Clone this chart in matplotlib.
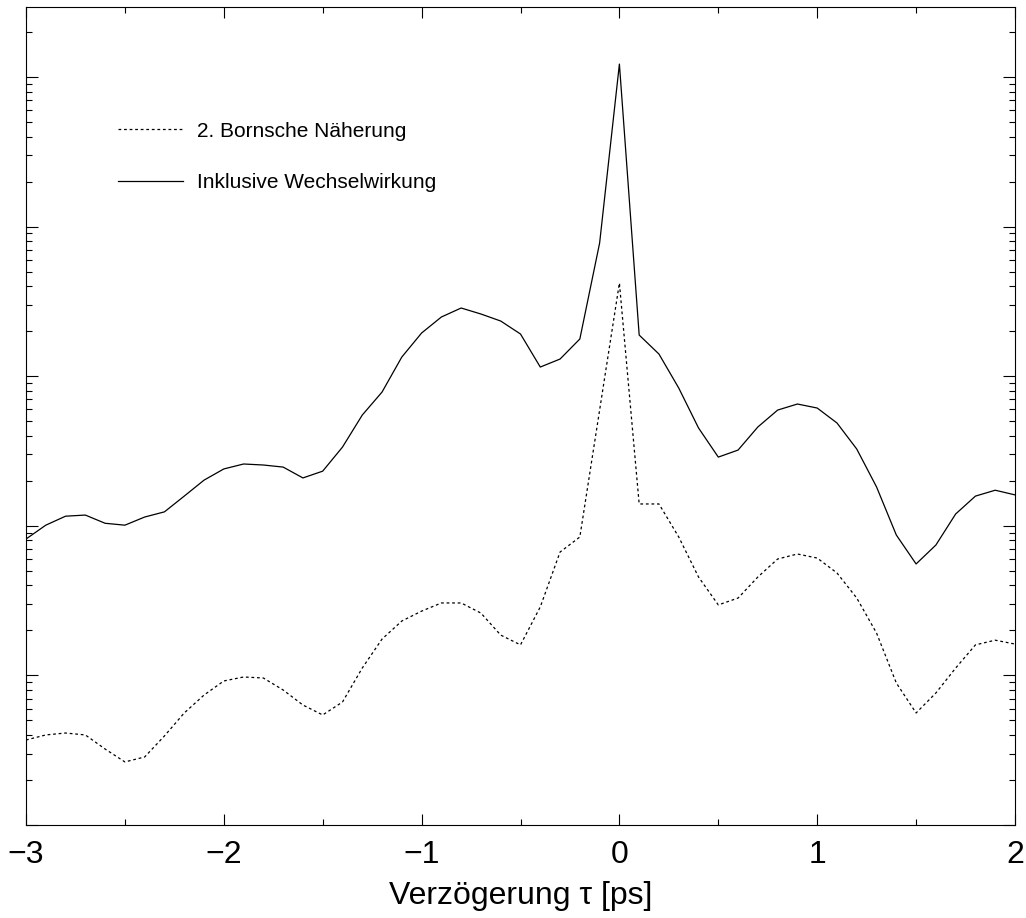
import numpy as np
import matplotlib
matplotlib.use("Agg")
import matplotlib.pyplot as plt
from matplotlib.ticker import LogLocator, MultipleLocator, NullFormatter

plt.rcParams['font.family'] = ['Liberation Sans', 'DejaVu Sans']
plt.rcParams['lines.scale_dashes'] = False

# delay in ps, 0.1 ps steps
tau = np.round(np.arange(-3.0, 2.05, 0.1), 2)

# signal (arbitrary units, log scale)
inklusive = [81.6, 101, 116, 118, 104, 101, 114.5, 124, 158, 202,
             240, 259, 255, 247, 209, 232, 336, 550, 784, 1344,
             1945, 2489, 2858, 2606, 2339, 1915, 1152, 1303, 1774, 7769,
             122100, 1885, 1407, 834, 451, 288, 321, 458, 594, 652,
             613, 487, 326, 182, 86.8, 55.6, 74.4, 120, 158, 173,
             161]
born2 = [3.70, 4.00, 4.12, 4.00, 3.22, 2.64, 2.85, 3.94, 5.61, 7.39,
         9.18, 9.76, 9.61, 7.99, 6.34, 5.44, 6.64, 11.2, 17.5, 23.1,
         26.9, 30.5, 30.5, 26.1, 18.6, 16.0, 28.7, 66.8, 84.2, 594,
         4198, 140, 140, 84.2, 45.5, 29.6, 32.9, 45.5, 60.0, 64.8,
         60.9, 48.4, 32.9, 19.2, 8.90, 5.61, 7.63, 11.2, 16.0, 17.2,
         16.2]

labels = ['2. Bornsche Näherung', 'Inklusive Wechselwirkung']

fig = plt.figure(figsize=(10.26, 9.18), dpi=100)
ax = fig.add_axes([26 / 1026, 1 - 825 / 918, 989 / 1026, 818 / 918])

ax.plot(tau, born2, color='black', lw=0.9, dashes=(2.0, 2.0), label=labels[0])
ax.plot(tau, inklusive, color='black', lw=0.9, label=labels[1])

ax.set_yscale('log')
ax.set_xlim(-3, 2)
ax.set_ylim(1, 2.94e5)

ax.xaxis.set_major_locator(MultipleLocator(1))
ax.xaxis.set_minor_locator(MultipleLocator(0.5))
ax.yaxis.set_major_locator(LogLocator(base=10, numticks=20))
ax.yaxis.set_minor_locator(LogLocator(base=10, subs=np.arange(2, 10), numticks=20))
ax.yaxis.set_major_formatter(NullFormatter())
ax.yaxis.set_minor_formatter(NullFormatter())

ax.tick_params(which='both', direction='in', top=True, right=True, width=0.8)
ax.tick_params(axis='y', which='major', length=8.6)
ax.tick_params(axis='y', which='minor', length=4.3)
ax.tick_params(axis='x', which='major', length=8, labelsize=23, pad=11)
ax.tick_params(axis='x', which='minor', length=4)
for sp in ax.spines.values():
    sp.set_linewidth(0.8)

ax.set_xlabel('Verzögerung τ [ps]', fontsize=23, labelpad=8)

ax.legend(loc='upper left', bbox_to_anchor=(0.093, 0.860), frameon=False,
          fontsize=15, handlelength=3.1, handletextpad=0.67, labelspacing=1.55,
          borderpad=0, borderaxespad=0)

plt.savefig("out.png", dpi=100)
